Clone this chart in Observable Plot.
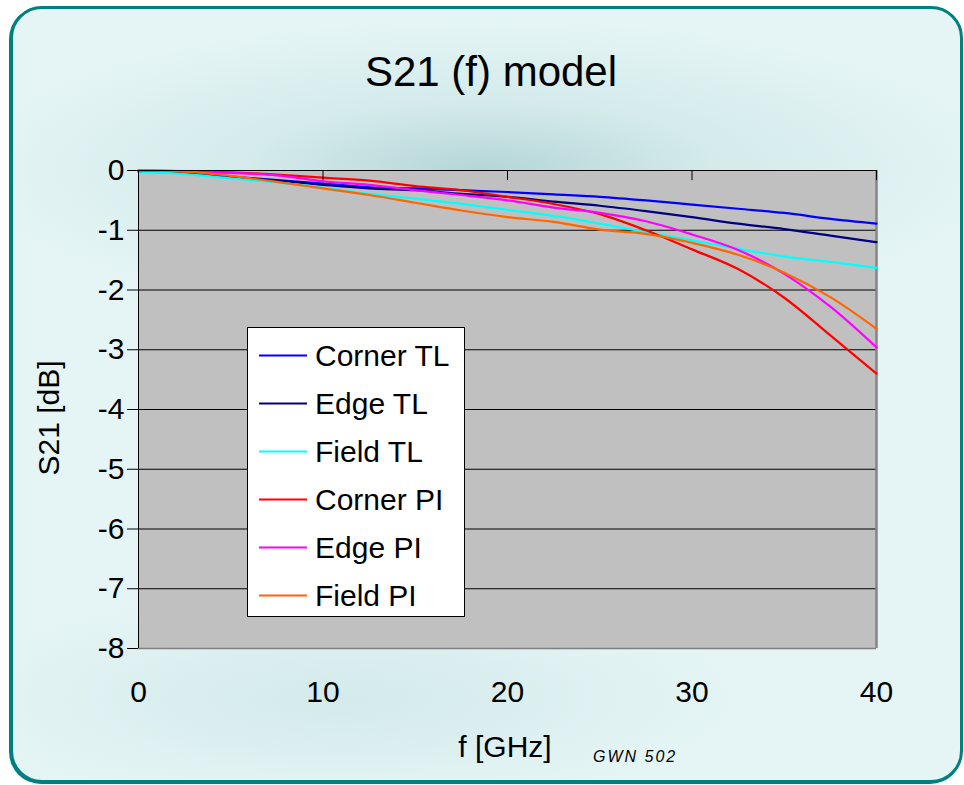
<!DOCTYPE html>
<html>
<head>
<meta charset="utf-8">
<script src="https://cdn.jsdelivr.net/npm/d3@7"></script>
<script src="https://cdn.jsdelivr.net/npm/@observablehq/plot@0.6"></script>
<style>
  html, body { margin: 0; padding: 0; background: #ffffff; width: 964px; height: 785px; overflow: hidden; }
  #card {
    position: absolute; left: 10px; top: 6px; width: 947px; height: 771px;
    border: 3px solid #00807f; border-radius: 32px;
    box-shadow: -1px 1px 0 #00807f;
    background:
      radial-gradient(ellipse 520px 150px at 470px 160px, rgba(178,212,214,0.95) 0%, rgba(205,230,231,0.7) 45%, rgba(228,245,245,0) 100%),
      radial-gradient(ellipse 400px 110px at 330px 690px, rgba(200,226,228,0.6) 0%, rgba(228,245,245,0) 100%),
      #e5f5f5;
  }
  #chart, #overlay { position: absolute; left: 0; top: 0; }
  #overlay { pointer-events: none; }
</style>
</head>
<body>
<div id="card"></div>
<div id="chart"></div>
<svg id="overlay" width="964" height="785" xmlns="http://www.w3.org/2000/svg"></svg>
<script>
// ---- data ----
const freqGHz = [0, 2.5, 5, 7.5, 10, 12.5, 15, 17.5, 20, 22.5, 25, 27.5, 30, 32.5, 35, 37.5, 40];
const cornerTL = [-0.02, -0.04, -0.10, -0.16, -0.22, -0.28, -0.30, -0.33, -0.36, -0.40, -0.44, -0.50, -0.57, -0.64, -0.71, -0.81, -0.89];
const edgeTL   = [-0.01, -0.04, -0.11, -0.17, -0.24, -0.30, -0.33, -0.39, -0.44, -0.52, -0.59, -0.68, -0.78, -0.89, -0.98, -1.09, -1.20];
const fieldTL  = [-0.02, -0.06, -0.13, -0.20, -0.29, -0.39, -0.47, -0.56, -0.66, -0.76, -0.89, -1.03, -1.17, -1.31, -1.44, -1.53, -1.63];
const cornerPI = [0, -0.01, -0.03, -0.07, -0.12, -0.17, -0.26, -0.33, -0.44, -0.56, -0.73, -1.00, -1.32, -1.65, -2.13, -2.76, -3.40];
const edgePI   = [0, -0.01, -0.04, -0.08, -0.18, -0.24, -0.33, -0.41, -0.50, -0.62, -0.71, -0.85, -1.07, -1.33, -1.73, -2.28, -2.96];
const fieldPI  = [0, -0.02, -0.09, -0.19, -0.30, -0.41, -0.54, -0.67, -0.78, -0.86, -0.99, -1.06, -1.21, -1.41, -1.71, -2.12, -2.65];

const seriesNames  = ["Corner TL", "Edge TL", "Field TL", "Corner PI", "Edge PI", "Field PI"];
const seriesValues = [cornerTL, edgeTL, fieldTL, cornerPI, edgePI, fieldPI];
const seriesColors = ["#0000ff", "#000080", "#00ffff", "#ff0000", "#ff00ff", "#ff6600"];

const xTicks = [0, 10, 20, 30, 40];
const yTicks = [0, -1, -2, -3, -4, -5, -6, -7, -8];

const titleText = "S21 (f) model";
const xTitle = "f [GHz]";
const yTitle = "S21 [dB]";
const noteText = "GWN 502";

// ---- long table ----
const rows = [];
seriesNames.forEach((name, i) => {
  freqGHz.forEach((f, j) => rows.push({series: name, f, s21: seriesValues[i][j]}));
});

const FONT = "'Liberation Sans', Arial, Helvetica, sans-serif";

const chart = Plot.plot({
  width: 964,
  height: 785,
  marginLeft: 138,
  marginRight: 88,
  marginTop: 170,
  marginBottom: 137,
  style: {background: "transparent", fontFamily: FONT, color: "#000", overflow: "visible"},
  x: {domain: [0, 40]},
  y: {domain: [-8, 0]},
  color: {domain: seriesNames, range: seriesColors},
  marks: [
    Plot.frame({fill: "#c0c0c0", stroke: "none"}),
    Plot.ruleY(yTicks.filter(v => v !== 0 && v !== -8), {stroke: "#000", strokeWidth: 1}),
    Plot.ruleY([-8], {stroke: "#808080", strokeWidth: 1.5}),
    Plot.ruleX([40], {stroke: "#858585", strokeWidth: 2.5}),
    Plot.ruleX([0], {stroke: "#000", strokeWidth: 1}),
    Plot.line(rows, {x: "f", y: "s21", z: "series", stroke: "series", strokeWidth: 2.2, curve: "monotone-x"}),
    Plot.ruleY([0], {stroke: "#000", strokeWidth: 1.2}),
    Plot.ruleX(xTicks, {y1: 0, y2: -0.17, stroke: "#000", strokeWidth: 1}),
    Plot.axisY(yTicks, {tickSize: 11, tickPadding: 3, fontSize: 30, tickFormat: d => String(d), label: null}),
    Plot.axisX(xTicks, {tickSize: 0, tickPadding: 32, fontSize: 30, tickFormat: d => String(d), label: null})
  ]
});
document.getElementById("chart").appendChild(chart);

// ---- titles, legend ----
const ov = d3.select("#overlay").style("font-family", FONT);
ov.append("text").attr("x", 491).attr("y", 86).attr("text-anchor", "middle")
  .attr("font-size", 42).attr("fill", "#000").text(titleText);
ov.append("text").attr("x", 505).attr("y", 757).attr("text-anchor", "middle")
  .attr("font-size", 30).attr("fill", "#000").text(xTitle);
ov.append("text").attr("transform", "translate(59,418) rotate(-90)").attr("text-anchor", "middle")
  .attr("font-size", 30).attr("fill", "#000").text(yTitle);
ov.append("text").attr("x", 593).attr("y", 762).attr("font-size", 16).attr("font-style", "italic")
  .attr("letter-spacing", 2).attr("fill", "#000").text(noteText);

const lg = ov.append("g");
lg.append("rect").attr("x", 247.5).attr("y", 327.5).attr("width", 217).attr("height", 289)
  .attr("fill", "#fff").attr("stroke", "#000").attr("stroke-width", 1);
seriesNames.forEach((name, i) => {
  const cy = 355.5 + i * 48;
  lg.append("line").attr("x1", 259).attr("x2", 307).attr("y1", cy).attr("y2", cy)
    .attr("stroke", seriesColors[i]).attr("stroke-width", 2);
  lg.append("text").attr("x", 315).attr("y", cy + 10).attr("font-size", 30).attr("fill", "#000").text(name);
});
</script>
</body>
</html>
